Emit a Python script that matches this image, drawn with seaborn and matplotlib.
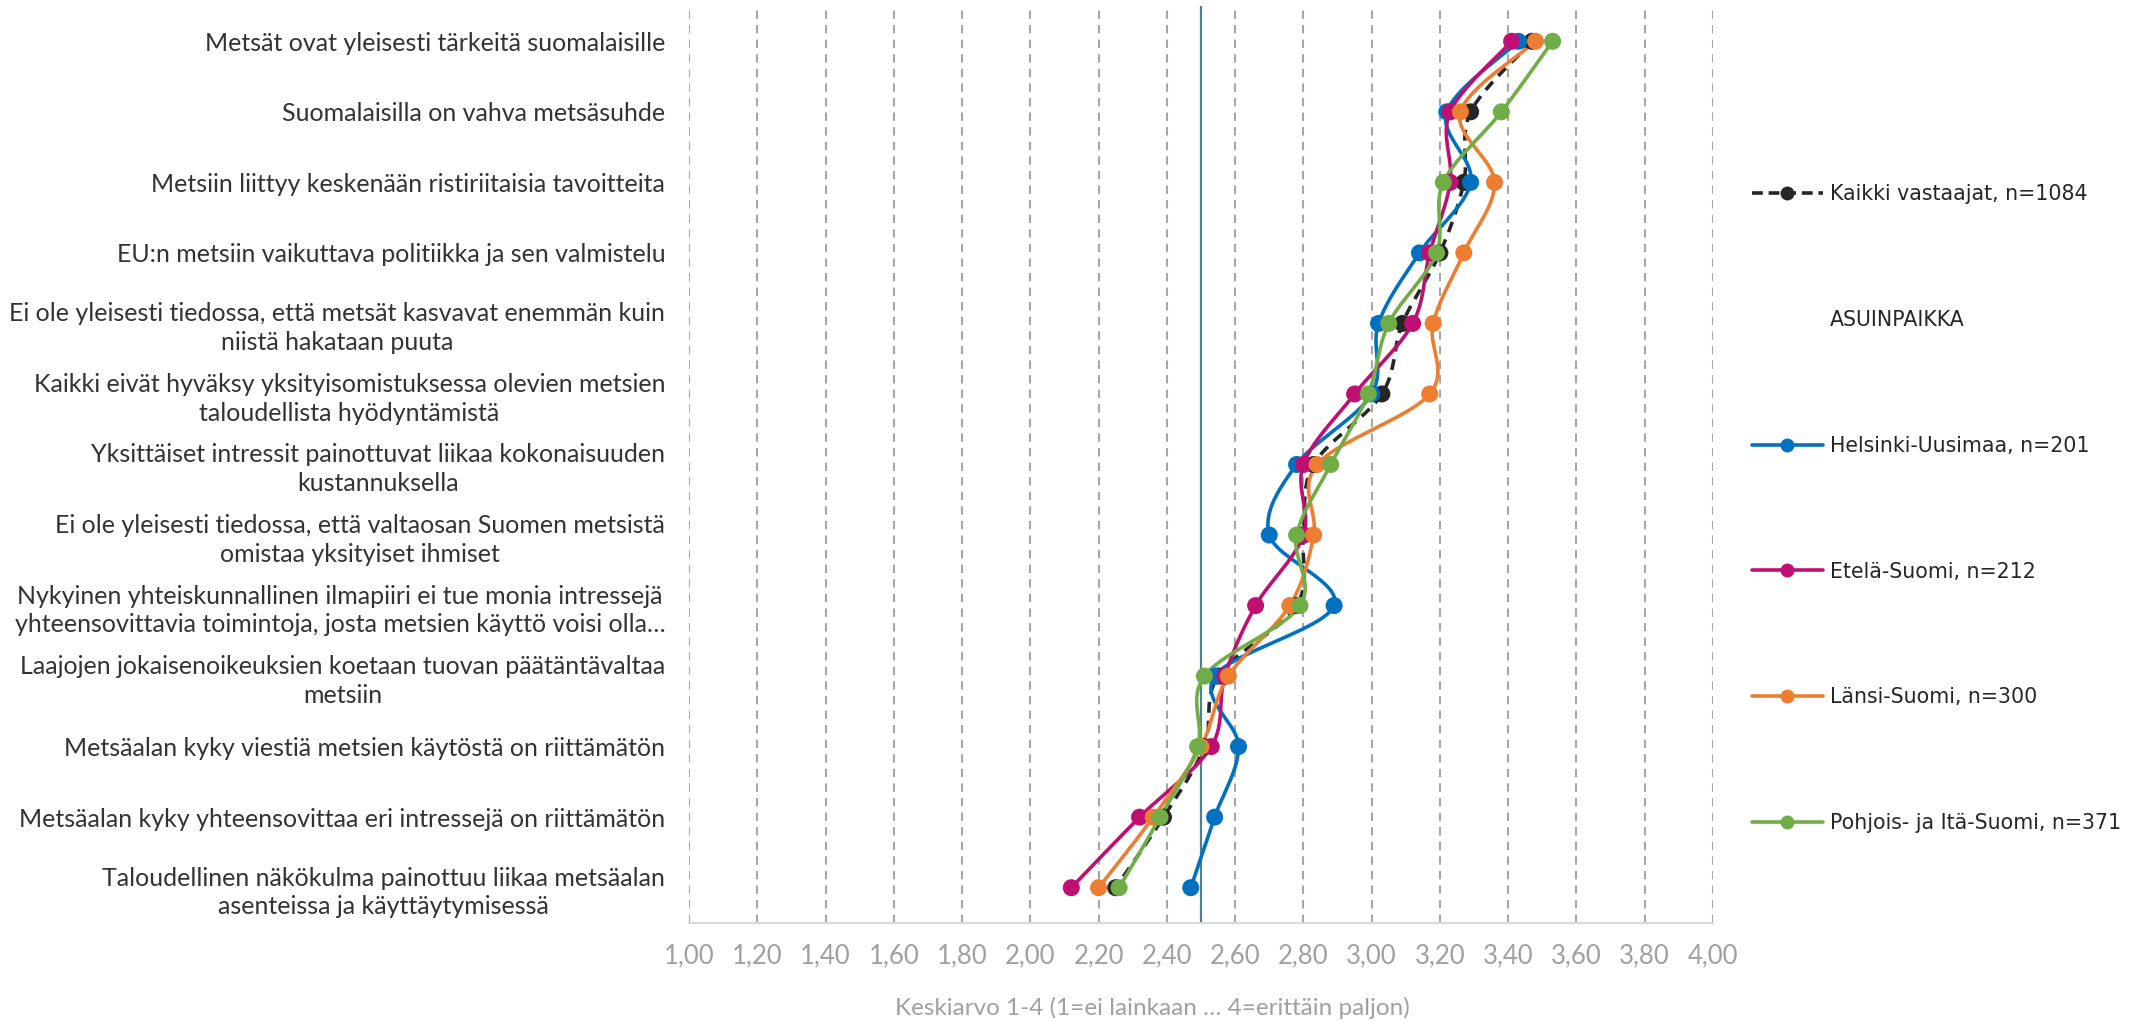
import numpy as np
import pandas as pd
import seaborn as sns
import matplotlib.pyplot as plt
from matplotlib.lines import Line2D

sns.set_theme(style="white")
plt.rcParams['font.family'] = ['Lato', 'DejaVu Sans']

statements = [
    "Metsät ovat yleisesti tärkeitä suomalaisille",
    "Suomalaisilla on vahva metsäsuhde",
    "Metsiin liittyy keskenään ristiriitaisia tavoitteita",
    "EU:n metsiin vaikuttava politiikka ja sen valmistelu",
    "Ei ole yleisesti tiedossa, että metsät kasvavat enemmän kuin\nniistä hakataan puuta",
    "Kaikki eivät hyväksy yksityisomistuksessa olevien metsien\ntaloudellista hyödyntämistä",
    "Yksittäiset intressit painottuvat liikaa kokonaisuuden\nkustannuksella",
    "Ei ole yleisesti tiedossa, että valtaosan Suomen metsistä\nomistaa yksityiset ihmiset",
    "Nykyinen yhteiskunnallinen ilmapiiri ei tue monia intressejä\nyhteensovittavia toimintoja, josta metsien käyttö voisi olla…",
    "Laajojen jokaisenoikeuksien koetaan tuovan päätäntävaltaa\nmetsiin",
    "Metsäalan kyky viestiä metsien käytöstä on riittämätön",
    "Metsäalan kyky yhteensovittaa eri intressejä on riittämätön",
    "Taloudellinen näkökulma painottuu liikaa metsäalan\nasenteissa ja käyttäytymisessä",
]

kaikki = [3.47, 3.29, 3.27, 3.20, 3.09, 3.03, 2.83, 2.80, 2.78, 2.55, 2.51, 2.39, 2.25]
helsinki = [3.43, 3.22, 3.29, 3.14, 3.02, 3.00, 2.78, 2.70, 2.89, 2.54, 2.61, 2.54, 2.47]
etela = [3.41, 3.23, 3.23, 3.17, 3.12, 2.95, 2.80, 2.80, 2.66, 2.57, 2.53, 2.32, 2.12]
lansi = [3.48, 3.26, 3.36, 3.27, 3.18, 3.17, 2.84, 2.83, 2.76, 2.58, 2.50, 2.36, 2.20]
pohjois = [3.53, 3.38, 3.21, 3.19, 3.05, 2.99, 2.88, 2.78, 2.79, 2.51, 2.49, 2.38, 2.26]

series_names = ["Kaikki vastaajat, n=1084", "Helsinki-Uusimaa, n=201", "Etelä-Suomi, n=212",
                "Länsi-Suomi, n=300", "Pohjois- ja Itä-Suomi, n=371"]
series_vals = [kaikki, helsinki, etela, lansi, pohjois]
colors = ["#262626", "#0070C0", "#C00F73", "#ED7D31", "#70AD47"]

ref_value = 2.5
xticks = np.arange(1.0, 4.001, 0.2)


def smooth(xv, yv, kx=4.83, n=24):
    # excel-like smoothed line (bezier through the points)
    P = np.column_stack([np.asarray(xv) * kx, np.asarray(yv, dtype=float)])
    P = np.vstack([P[0], P, P[-1]])
    t = np.linspace(0, 1, n, endpoint=False)[:, None]
    out = []
    for i in range(1, len(P) - 2):
        p0, p1, p2, p3 = P[i - 1], P[i], P[i + 1], P[i + 2]
        b1 = p1 + (p2 - p0) / 6
        b2 = p2 - (p3 - p1) / 6
        out.append((1 - t) ** 3 * p1 + 3 * (1 - t) ** 2 * t * b1 + 3 * (1 - t) * t ** 2 * b2 + t ** 3 * p2)
    out.append(P[-2][None])
    out = np.vstack(out)
    return out[:, 0] / kx, out[:, 1]


fig = plt.figure(figsize=(21.41, 10.22), dpi=100)
ax = fig.add_axes([0.3218, 0.0969, 0.4783, 0.8972])

ax.axvline(ref_value, color="#52808E", lw=1.6, zorder=1.5)

pos = np.arange(len(statements))
for name, vals, col in zip(series_names, series_vals, colors):
    sx, sy = smooth(vals, pos)
    ls = (0, (3, 2.2)) if name.startswith("Kaikki") else "-"
    sns.lineplot(x=sx, y=sy, sort=False, estimator=None, orient="y", color=col,
                 lw=2.6, linestyle=ls, ax=ax, zorder=3)
    sns.scatterplot(x=vals, y=pos, color=col, s=150, edgecolor="none", ax=ax, zorder=4)

ax.set_xlim(1.0, 4.0)
ax.set_ylim(len(statements) - 0.5, -0.5)
ax.set_xticks(xticks)
ax.set_xticklabels([f"{v:.2f}".replace(".", ",") for v in xticks], fontsize=18.5, color="#A0A0A0")
ax.set_yticks(pos)
ax.set_yticklabels(statements, fontsize=18, color="#333333", multialignment="center",
                   linespacing=1.3)
ax.tick_params(axis="x", length=0, pad=15)
ax.tick_params(axis="y", length=0, pad=17)
ax.xaxis.grid(True, linestyle=(0, (4, 3)), color="#A6A6A6", linewidth=1.5)
ax.yaxis.grid(False)
for s in ["top", "right", "left"]:
    ax.spines[s].set_visible(False)
ax.spines["bottom"].set_color("#D9D9D9")
ax.spines["bottom"].set_linewidth(1.5)
ax.set_xlabel("")
ax.set_ylabel("")

fig.text(1152 / 2141, 1 - 1008 / 1022, "Keskiarvo 1-4 (1=ei lainkaan … 4=erittäin paljon)",
         ha="center", va="center", fontsize=17.5, color="#A0A0A0")

handles = []
labels = []
for i, (name, col) in enumerate(zip(series_names, colors)):
    ls = (0, (3, 1.6)) if i == 0 else "-"
    handles.append(Line2D([], [], color=col, lw=2.6, linestyle=ls, marker="o", markersize=9))
    labels.append(name)
    if i == 0:
        handles.append(Line2D([], [], color="none"))
        labels.append("ASUINPAIKKA")

fig.legend(handles, labels, loc="upper left", bbox_to_anchor=(1752 / 2141, 1 - 184 / 1022),
           frameon=False, borderpad=0, borderaxespad=0, handlelength=3.45, handletextpad=0.35,
           labelspacing=5.15, prop={"family": "DejaVu Sans", "size": 14.8}, labelcolor="#262626")

fig.savefig("out.png", dpi=100)
